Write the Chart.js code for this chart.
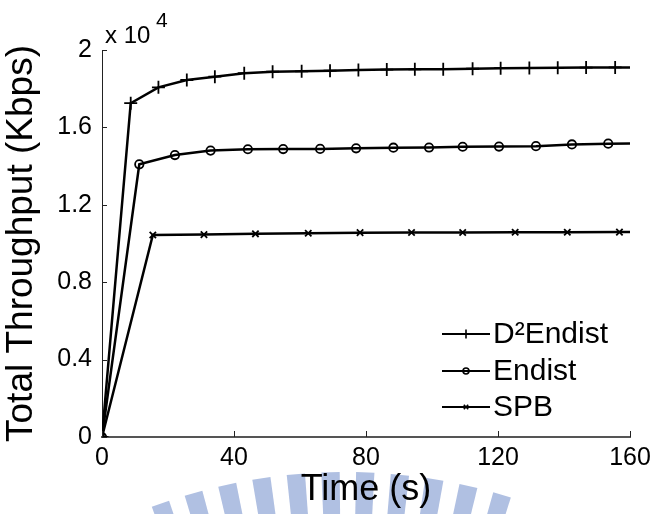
<!DOCTYPE html>
<html>
<head>
<meta charset="utf-8">
<script src="https://cdn.jsdelivr.net/npm/chart.js@4.4.0/dist/chart.umd.min.js"></script>
<style>
  html, body { margin: 0; padding: 0; background: #fff; }
  #wrap { width: 657px; height: 514px; }
</style>
</head>
<body>
<div id="wrap"><canvas id="throughputChart"></canvas></div>
<script>
// sample times (s) and total throughput (Kbps) per scheme
const timeD2 = [0, 8.7, 17.1, 25.7, 34.2, 43.1, 51.7, 60.5, 69.1, 77.7, 86.3, 94.8, 103.4, 112.3, 120.8, 129.5, 138.1, 146.7, 155.5, 160];
const thrD2 = [0, 17250, 18070, 18450, 18620, 18800, 18880, 18900, 18930, 18970, 18990, 19000, 19010, 19030, 19060, 19070, 19080, 19090, 19100, 19100];

const timeEndist = [0, 11.3, 22.1, 32.9, 44.2, 54.9, 66.1, 77.0, 88.3, 99.1, 109.3, 120.3, 131.5, 142.4, 153.4, 160];
const thrEndist = [0, 14090, 14570, 14800, 14870, 14880, 14890, 14920, 14950, 14960, 15000, 15010, 15030, 15120, 15160, 15170];

const timeSPB = [0, 15.4, 30.9, 46.5, 62.5, 78.2, 93.8, 109.3, 125.2, 141.0, 156.8, 160];
const thrSPB = [0, 10440, 10460, 10500, 10530, 10560, 10570, 10570, 10580, 10580, 10590, 10590];

const seriesNames = ['D\u00b2Endist', 'Endist', 'SPB'];
const xTicks = [0, 40, 80, 120, 160];
const yTicks = [0, 4000, 8000, 12000, 16000, 20000];

const FONT = "'Liberation Sans', Arial, sans-serif";
Chart.defaults.font.family = FONT;
Chart.defaults.color = '#000';

const toPoints = (xs, ys) => xs.map((x, i) => ({ x: x, y: ys[i] }));
// the closing sample at t=160 carries no marker
const markerRadius = (r) => (ctx) => ctx.dataIndex === ctx.dataset.data.length - 1 ? 0 : r;

const styles = [
    { pointStyle: 'cross', radius: 6.5, borderWidth: 1.8 },
    { pointStyle: 'circle', radius: 4.2, borderWidth: 1.8 },
    { pointStyle: 'crossRot', radius: 4.5, borderWidth: 1.8 }
];

const datasets = [
    toPoints(timeD2, thrD2),
    toPoints(timeEndist, thrEndist),
    toPoints(timeSPB, thrSPB)
].map((pts, i) => ({
    label: seriesNames[i],
    data: pts,
    borderColor: '#000',
    borderWidth: 2.5,
    backgroundColor: 'rgba(0,0,0,0)',
    pointStyle: styles[i].pointStyle,
    pointRadius: markerRadius(styles[i].radius),
    pointBorderWidth: styles[i].borderWidth,
    pointBorderColor: '#000',
    pointBackgroundColor: 'rgba(0,0,0,0)',
    tension: 0
}));

// faint striped emblem behind the bottom of the figure
const emblem = {
    id: 'emblem',
    beforeDraw(chart) {
        const ctx = chart.ctx;
        const cx = 345, cy = 1025, r0 = 470, r1 = 553;
        ctx.save();
        ctx.fillStyle = '#b0c0e2';
        for (let a = -19.5; a <= 19.5; a += 3.6) {
            const a0 = (a - 0.95) * Math.PI / 180, a1 = (a + 0.95) * Math.PI / 180;
            ctx.beginPath();
            ctx.moveTo(cx + r0 * Math.sin(a0), cy - r0 * Math.cos(a0));
            ctx.lineTo(cx + r1 * Math.sin(a0), cy - r1 * Math.cos(a0));
            ctx.lineTo(cx + r1 * Math.sin(a1), cy - r1 * Math.cos(a1));
            ctx.lineTo(cx + r0 * Math.sin(a1), cy - r0 * Math.cos(a1));
            ctx.closePath();
            ctx.fill();
        }
        ctx.restore();
    }
};

// inward tick marks, the "x 10^4" multiplier and the legend
const decorations = {
    id: 'decorations',
    afterDraw(chart) {
        const { ctx, scales: { x, y } } = chart;
        ctx.save();
        ctx.strokeStyle = '#222';
        ctx.lineWidth = 1;
        y.ticks.forEach(t => {
            const py = Math.round(y.getPixelForValue(t.value)) + 0.5;
            ctx.beginPath();
            ctx.moveTo(x.left, py);
            ctx.lineTo(x.left + 5, py);
            ctx.stroke();
        });
        x.ticks.forEach(t => {
            const px = Math.round(x.getPixelForValue(t.value)) + 0.5;
            ctx.beginPath();
            ctx.moveTo(px, y.bottom);
            ctx.lineTo(px, y.bottom - 6);
            ctx.stroke();
        });

        ctx.fillStyle = '#000';
        ctx.textBaseline = 'alphabetic';
        ctx.textAlign = 'left';
        ctx.font = '24px ' + FONT;
        ctx.fillText('x 10', x.left + 3, 43);
        ctx.font = '21px ' + FONT;
        ctx.fillText('4', 156, 27);

        // legend rows: line sample with marker, then label
        const rows = [334, 371, 407];
        chart.data.datasets.forEach((ds, i) => {
            const ly = rows[i];
            ctx.strokeStyle = '#000';
            ctx.lineWidth = 2;
            ctx.beginPath();
            ctx.moveTo(442, ly);
            ctx.lineTo(490, ly);
            ctx.stroke();
            ctx.lineWidth = 1.6;
            ctx.fillStyle = 'rgba(0,0,0,0)';
            Chart.helpers.drawPoint(ctx, {
                pointStyle: styles[i].pointStyle,
                radius: styles[i].radius * 0.7,
                rotation: 0,
                borderWidth: 1.6
            }, 466, ly);
            ctx.fillStyle = '#000';
            ctx.font = '30px ' + FONT;
            ctx.textBaseline = 'middle';
            ctx.fillText(ds.label, 493, ly + 1);
        });
        ctx.restore();
    }
};

new Chart(document.getElementById('throughputChart'), {
    type: 'line',
    data: { datasets: datasets },
    options: {
        responsive: true,
        maintainAspectRatio: false,
        animation: false,
        layout: { padding: { top: 50, right: 27, left: 0, bottom: 0 } },
        plugins: {
            legend: { display: false },
            tooltip: { enabled: false }
        },
        scales: {
            x: {
                type: 'linear',
                min: 0,
                max: 160,
                afterBuildTicks: (s) => { s.ticks = xTicks.map(v => ({ value: v })); },
                ticks: { font: { size: 25 }, color: '#000', padding: 6, maxRotation: 0 },
                grid: { drawOnChartArea: false, drawTicks: false },
                border: { color: '#555', width: 2 },
                title: { display: true, text: 'Time (s)', font: { size: 36 }, color: '#000', padding: { top: 0, bottom: 2 } },
                afterFit: (s) => { s.height = 77; }
            },
            y: {
                type: 'linear',
                min: 0,
                max: 20000,
                afterBuildTicks: (s) => { s.ticks = yTicks.map(v => ({ value: v })); },
                ticks: { font: { size: 25 }, color: '#000', padding: 10, callback: (v) => String(v / 1e4) },
                grid: { drawOnChartArea: false, drawTicks: false },
                border: { color: '#222', width: 1 },
                title: { display: true, text: 'Total Throughput (Kbps)', font: { size: 37 }, color: '#000', padding: { top: 0, bottom: 0 } },
                afterFit: (s) => { s.width = 102; }
            }
        }
    },
    plugins: [emblem, decorations]
});
</script>
</body>
</html>
